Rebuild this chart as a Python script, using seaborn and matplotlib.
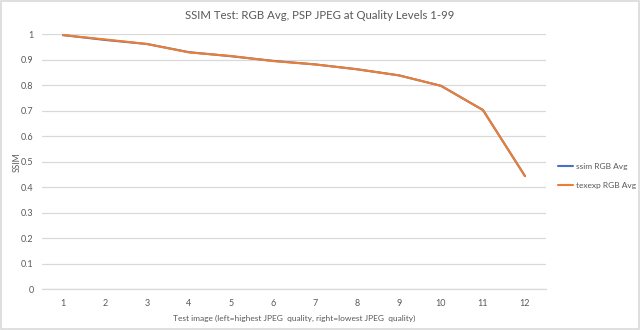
import matplotlib
matplotlib.use("Agg")
import matplotlib.pyplot as plt
import seaborn as sns
import pandas as pd

# SSIM averages per test image (1 = highest JPEG quality, 12 = lowest)
test_images = list(range(1, 13))
ssim_rgb_avg = [0.997, 0.978, 0.962, 0.930, 0.914, 0.896, 0.882, 0.863, 0.839, 0.798, 0.703, 0.444]
texexp_rgb_avg = [0.997, 0.980, 0.962, 0.929, 0.915, 0.895, 0.882, 0.863, 0.839, 0.798, 0.703, 0.444]
series_names = ["ssim RGB Avg", "texexp RGB Avg"]

df = pd.DataFrame({
    "image": test_images * 2,
    "ssim": ssim_rgb_avg + texexp_rgb_avg,
    "series": [series_names[0]] * len(test_images) + [series_names[1]] * len(test_images),
})

sns.set_theme(style="white")
plt.rcParams["font.family"] = ["Lato", "DejaVu Sans"]

text_gray = "#595959"
grid_gray = "#D9D9D9"

fig = plt.figure(figsize=(6.4, 3.3), dpi=100)
ax = fig.add_axes([0.0656, 0.1233, 0.7875, 0.7727])

sns.lineplot(data=df, x="image", y="ssim", hue="series",
             palette=["#4472C4", "#ED7D31"], linewidth=1.5, ax=ax, legend=True)

ax.set_xlim(0.5, 12.5)
ax.set_ylim(0, 1)
ax.set_xticks(test_images)
ax.set_xticklabels([str(i) for i in test_images])
ax.set_yticks([i / 10 for i in range(11)])
ax.set_yticklabels(["0", "0.1", "0.2", "0.3", "0.4", "0.5", "0.6", "0.7", "0.8", "0.9", "1"])
ax.yaxis.grid(True, color=grid_gray, linewidth=0.9)
ax.xaxis.grid(False)
for side in ["top", "right", "left"]:
    ax.spines[side].set_visible(False)
ax.spines["bottom"].set_color(grid_gray)
ax.spines["bottom"].set_linewidth(0.9)
ax.tick_params(axis="both", length=0, labelsize=6.5, colors=text_gray, pad=7)
ax.tick_params(axis="y", pad=6)

ax.set_xlabel("Test image (left=highest JPEG  quality, right=lowest JPEG  quality)",
              fontsize=6.0, color=text_gray, labelpad=5)
ax.set_ylabel("SSIM", fontsize=6.2, color=text_gray)
ax.yaxis.set_label_coords(-0.041, 0.5)
fig.suptitle("SSIM Test: RGB Avg, PSP JPEG at Quality Levels 1-99",
             fontsize=8.2, color=text_gray, y=0.97)

leg = ax.legend(loc="center left", bbox_to_anchor=(1.008, 0.445), frameon=False,
                fontsize=6, handlelength=1.9, labelspacing=1.45, handletextpad=0.35)
for t in leg.get_texts():
    t.set_color(text_gray)

# outer chart border
fig.patches.append(plt.Rectangle((0.002, 0.003), 0.996, 0.994, transform=fig.transFigure,
                                 fill=False, edgecolor=grid_gray, linewidth=1.2))

fig.savefig("out.png", dpi=100, facecolor="white")
